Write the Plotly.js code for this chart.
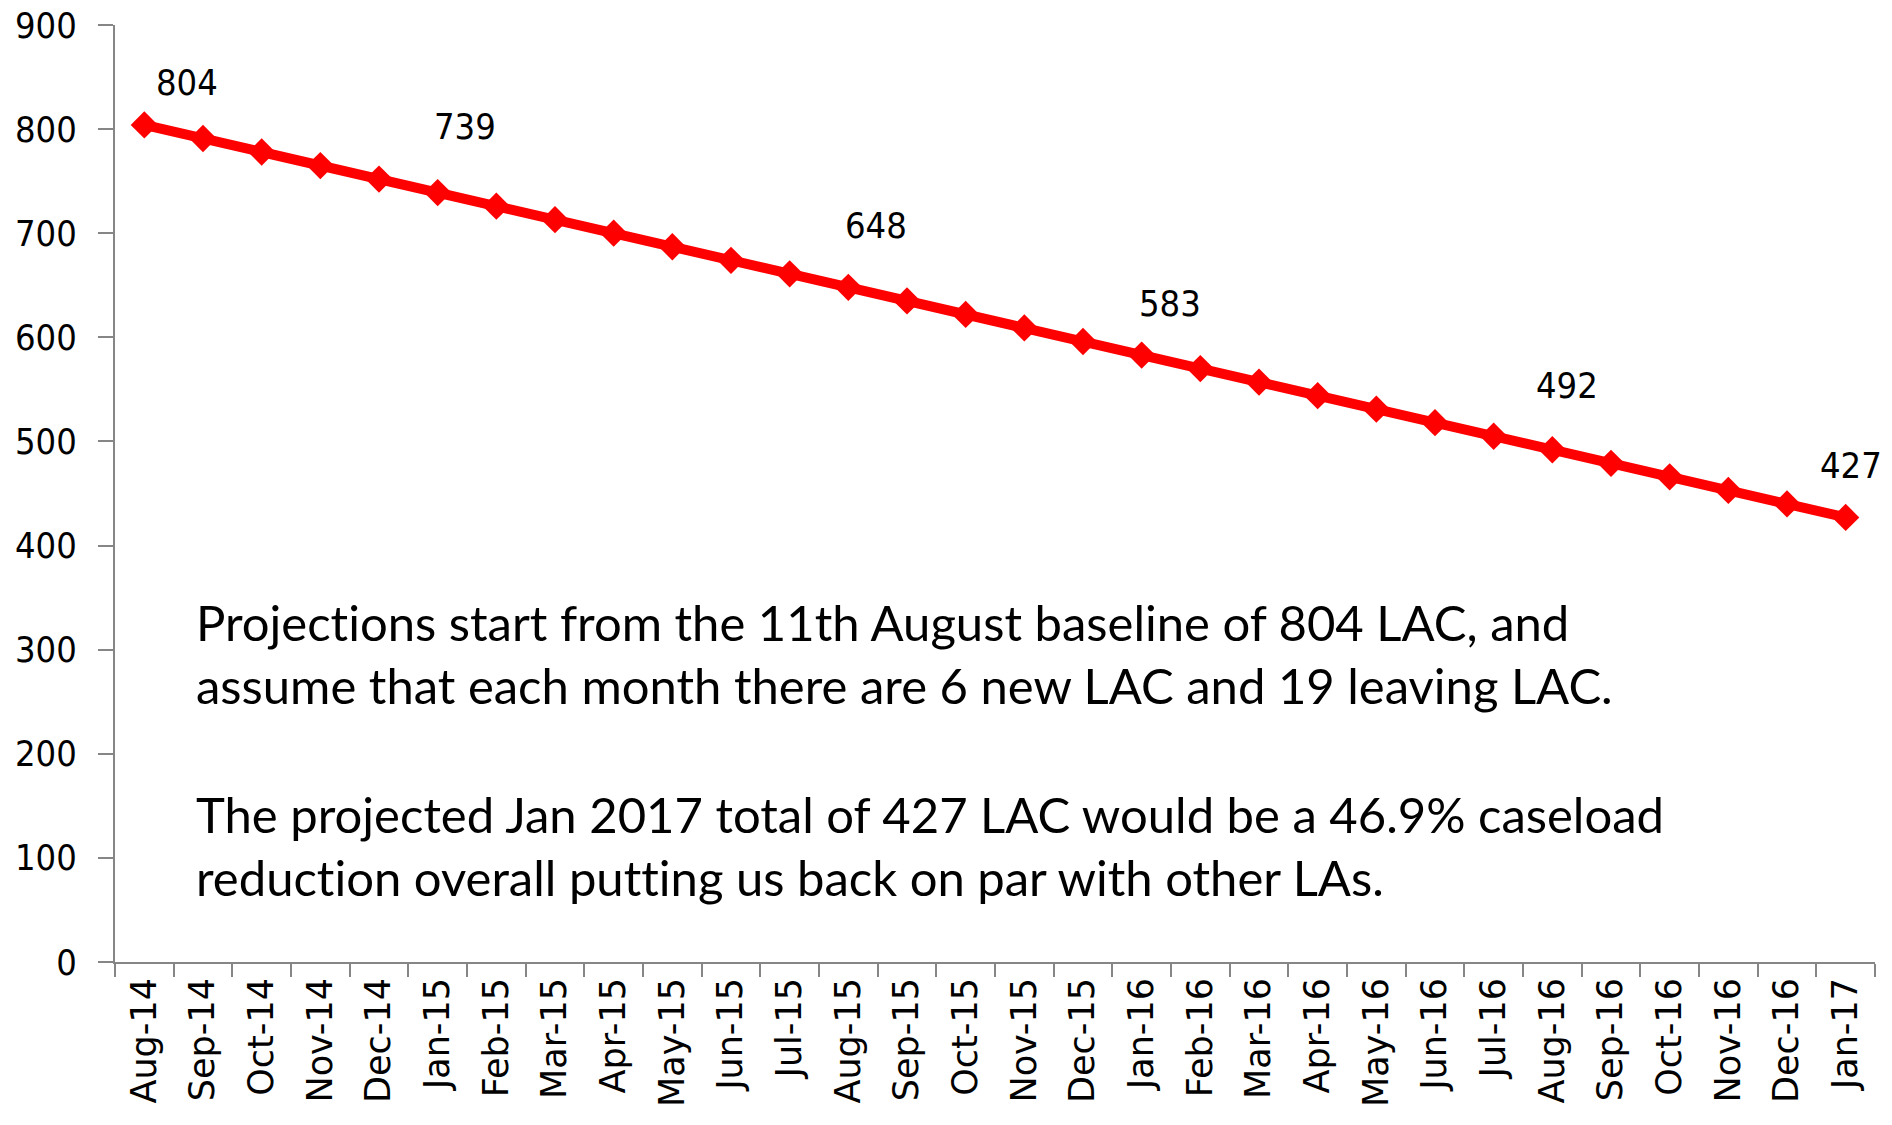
<!DOCTYPE html>
<html>
<head>
<meta charset="utf-8">
<script src="https://cdn.plot.ly/plotly-3.0.1.min.js"></script>
<style>
html,body{margin:0;padding:0;background:#fff;}
#chart{width:1892px;height:1125px;}
#chart text, #chart tspan{font-variant-ligatures:none !important;font-feature-settings:"liga" 0,"clig" 0,"dlig" 0 !important;}
</style>
</head>
<body>
<div id="chart"></div>
<script>
// ---- data ----
const months = ["Aug-14","Sep-14","Oct-14","Nov-14","Dec-14","Jan-15","Feb-15","Mar-15","Apr-15","May-15",
  "Jun-15","Jul-15","Aug-15","Sep-15","Oct-15","Nov-15","Dec-15","Jan-16","Feb-16","Mar-16",
  "Apr-16","May-16","Jun-16","Jul-16","Aug-16","Sep-16","Oct-16","Nov-16","Dec-16","Jan-17"];
const projectedLAC = [804,791,778,765,752,739,726,713,700,687,
  674,661,648,635,622,609,596,583,570,557,
  544,531,518,505,492,479,466,453,440,427];
const labelledMonths = ["Aug-14","Jan-15","Aug-15","Jan-16","Aug-16","Jan-17"];
const yTicks = [0,100,200,300,400,500,600,700,800,900];
const noteLines = [
  "Projections start from the 11th August baseline of 804 LAC, and",
  "assume that each month there are 6 new LAC and 19 leaving LAC.",
  "",
  "The projected Jan 2017 total of 427 LAC would be a 46.9% caseload",
  "reduction overall putting us back on par with other LAs."
];

// ---- layout helpers ----
const L = 115, R = 17, T = 25, B = 163, W = 1892, H = 1125;
const plotW = W - L - R, plotH = H - T - B;
const numFont = "'Liberation Sans Narrow', 'DejaVu Sans Condensed', 'Arial Narrow', sans-serif";
const labelShifts = [[43,-42],[27,-66],[28,-62],[28,-52],[15,-64],[5,-52]];

const annotations = [];
labelledMonths.forEach((m, i) => {
  const idx = months.indexOf(m);
  annotations.push({
    x: m, y: projectedLAC[idx], xref: 'x', yref: 'y',
    text: String(projectedLAC[idx]), showarrow: false,
    xshift: labelShifts[i][0], yshift: -labelShifts[i][1],
    font: {family: numFont, size: 36, color: '#000'}
  });
});
const noteCenters = [622, 685, 749, 813.5, 876.5];
noteLines.forEach((t, i) => {
  if (!t) return;
  annotations.push({
    x: (194 - L) / plotW, y: (H - B - noteCenters[i]) / plotH,
    xref: 'paper', yref: 'paper', xanchor: 'left', yanchor: 'middle',
    text: t, showarrow: false, align: 'left',
    font: {family: "Lato, 'Open Sans', sans-serif", size: 49, color: '#000'}
  });
});

const trace = {
  x: months, y: projectedLAC, type: 'scatter', mode: 'lines+markers',
  line: {color: '#ff0000', width: 10},
  marker: {symbol: 'diamond', size: 21, color: '#ff0000'},
  cliponaxis: false, hoverinfo: 'x+y'
};

const layout = {
  width: W, height: H,
  margin: {l: L, r: R, t: T, b: B, pad: 0},
  paper_bgcolor: '#fff', plot_bgcolor: '#fff',
  showlegend: false,
  xaxis: {
    type: 'category', range: [-0.5, months.length - 0.5],
    showgrid: false, zeroline: false,
    showline: true, linecolor: '#868686', linewidth: 2,
    ticks: 'outside', tickson: 'boundaries', ticklen: 13, tickwidth: 2, tickcolor: '#868686',
    tickangle: -90,
    tickfont: {family: "'DejaVu Sans', Verdana, sans-serif", size: 35, color: '#000'}
  },
  yaxis: {
    range: [0, 900], tickvals: yTicks, ticktext: yTicks.map(String),
    showgrid: false, zeroline: false,
    showline: true, linecolor: '#868686', linewidth: 2,
    ticks: 'outside', ticklen: 15, tickwidth: 2, tickcolor: '#868686',
    tickfont: {family: numFont, size: 36, color: '#000'},
    ticklabelstandoff: 14
  },
  annotations: annotations
};

Plotly.newPlot('chart', [trace], layout, {displayModeBar: false, staticPlot: true});
</script>
</body>
</html>
